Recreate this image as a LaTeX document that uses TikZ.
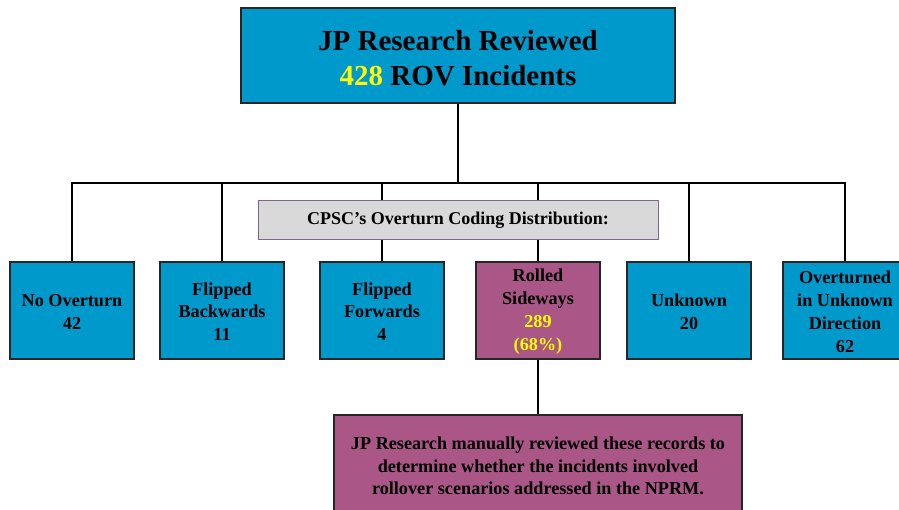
\documentclass[tikz,border=0pt]{standalone}
\usepackage{fontspec}
\setmainfont{Liberation Serif}
\definecolor{boxblue}{HTML}{0099CC}
\definecolor{boxpurple}{HTML}{AA5787}
\definecolor{labgray}{HTML}{D9D9D9}
\definecolor{labborder}{HTML}{7E6390}
\definecolor{hiyellow}{HTML}{FFFF00}
\begin{document}
\begin{tikzpicture}[x=1pt,y=-1pt,
  catbox/.style={draw=black!85, line width=1.2pt, fill=boxblue, minimum width=124pt, minimum height=97pt,
     inner sep=0pt, align=center, font=\fontsize{18.2}{22.8}\selectfont\bfseries},
  purplebox/.style={catbox, fill=boxpurple},
  conn/.style={draw=black, line width=1.6pt},
]
\useasboundingbox (0,0) rectangle (899,510);
\node[draw=black!85, line width=1.2pt, fill=boxblue, minimum width=434pt, minimum height=95pt, inner sep=0pt,
  align=center, font=\fontsize{29}{35}\selectfont\bfseries] (top) at (458,55.5)
  {\rule{0pt}{26pt}JP Research Reviewed\\\textcolor{hiyellow}{428} ROV Incidents};
\node[catbox] (b1) at (72,310.5) {\rule{0pt}{15pt}No Overturn\\42};
\node[catbox] (b2) at (222,310.5) {\rule{0pt}{15pt}Flipped\\Backwards\\11};
\node[catbox] (b3) at (382,310.5) {\rule{0pt}{15pt}Flipped\\Forwards\\4};
\node[purplebox] (b4) at (538,310.5) {\rule{0pt}{15pt}Rolled\\Sideways\\\textcolor{hiyellow}{289}\\\textcolor{hiyellow}{(68\%)}};
\node[catbox] (b5) at (689,310.5) {\rule{0pt}{15pt}Unknown\\20};
\node[catbox] (b6) at (845,310.5) {\rule{0pt}{15pt}Overturned\\in Unknown\\Direction\\62};
\node[purplebox, minimum width=408pt, minimum height=102pt] (bot) at (538,466)
  {JP Research manually reviewed these records to\\determine whether the incidents involved\\rollover scenarios addressed in the NPRM.};
\coordinate (bus) at (0,183);
\draw[conn, line width=2.4pt] (top.south) -- (top.south |- bus);
\foreach \b in {b1,b2,b3,b4,b5,b6}{
  \draw[conn] (top.south |- bus) -| (\b.north);
}
\draw[conn] (b4.south) -- (bot.north);
\node[draw=labborder, line width=1pt, fill=labgray, minimum width=400pt, minimum height=39pt, inner sep=0pt,
  font=\fontsize{18}{22}\selectfont\bfseries] (lab) at (458,220) {CPSC’s Overturn Coding Distribution:};
\end{tikzpicture}
\end{document}
